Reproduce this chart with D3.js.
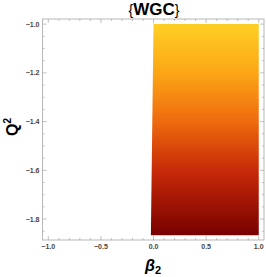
<!DOCTYPE html>
<html>
<head>
<meta charset="utf-8">
<script src="https://cdn.jsdelivr.net/npm/d3@7"></script>
<style>
  body { margin: 0; background: #fff; }
  svg { display: block; font-family: "Liberation Sans", Arial, sans-serif; }
</style>
</head>
<body>
<div id="chart"></div>
<script>
// data
const xTicks = [-1.0, -0.5, 0.0, 0.5, 1.0];
const yTicks = [-1.8, -1.6, -1.4, -1.2, -1.0];
const xDomain = [-1.055, 1.05];
const yDomain = [-1.886, -0.979];

// allowed region (beta2, Q^2), left edge leans a bit
const regionBeta = [0.0, 1.0, 1.0, -0.025];
const regionQ2 = [-1.0, -1.0, -1.866, -1.866];

// colour along Q^2
const colorQ = [-1.0, -1.2, -1.4, -1.6, -1.866];
const colorHex = ['#ffcf24', '#fca616', '#ee6a0e', '#c82a08', '#780000'];

const width = 266, height = 277;
const m = { left: 42.5, right: 2, top: 19, bottom: 37 };

const svg = d3.select('#chart').append('svg')
  .attr('width', width)
  .attr('height', height);

const x = d3.scaleLinear().domain(xDomain).range([m.left, width - m.right]);
const y = d3.scaleLinear().domain(yDomain).range([height - m.bottom, m.top]);

const grad = svg.append('defs').append('linearGradient')
  .attr('id', 'fillGrad')
  .attr('gradientUnits', 'userSpaceOnUse')
  .attr('x1', 0).attr('x2', 0)
  .attr('y1', y(colorQ[0])).attr('y2', y(colorQ[colorQ.length - 1]));

const span = colorQ[colorQ.length - 1] - colorQ[0];
grad.selectAll('stop')
  .data(colorQ)
  .join('stop')
  .attr('offset', d => (d - colorQ[0]) / span)
  .attr('stop-color', (d, i) => colorHex[i]);

const region = regionBeta.map((b, i) => [b, regionQ2[i]]);
svg.append('path')
  .attr('d', d3.line().x(d => x(d[0])).y(d => y(d[1]))(region) + 'Z')
  .attr('fill', 'url(#fillGrad)');

// frame
const frame = svg.append('g').attr('stroke', '#a6a6a6').attr('fill', 'none');
frame.append('rect')
  .attr('x', x.range()[0]).attr('y', y.range()[1])
  .attr('width', x.range()[1] - x.range()[0])
  .attr('height', y.range()[0] - y.range()[1])
  .attr('stroke-width', 0.8);

const xMinor = d3.range(-10, 11).map(d => d / 10);
const yMinor = d3.range(-37, -19).map(d => d / 20);

function isMajor(v, list) { return list.some(t => Math.abs(t - v) < 1e-6); }

// ticks pointing into the frame on all four sides
xMinor.forEach(v => {
  const len = isMajor(v, xTicks) ? 4 : 2;
  frame.append('line').attr('x1', x(v)).attr('x2', x(v))
    .attr('y1', y.range()[0]).attr('y2', y.range()[0] - len).attr('stroke-width', 0.7);
  frame.append('line').attr('x1', x(v)).attr('x2', x(v))
    .attr('y1', y.range()[1]).attr('y2', y.range()[1] + len).attr('stroke-width', 0.7);
});
yMinor.forEach(v => {
  const len = isMajor(v, yTicks) ? 4 : 2;
  frame.append('line').attr('y1', y(v)).attr('y2', y(v))
    .attr('x1', x.range()[0]).attr('x2', x.range()[0] + len).attr('stroke-width', 0.7);
  frame.append('line').attr('y1', y(v)).attr('y2', y(v))
    .attr('x1', x.range()[1]).attr('x2', x.range()[1] - len).attr('stroke-width', 0.7);
});

const fmt = d => d3.format('.1f')(d).replace('-', '\u2212');

svg.append('g').selectAll('text')
  .data(xTicks)
  .join('text')
  .attr('x', x)
  .attr('y', y.range()[0] + 9)
  .attr('text-anchor', 'middle')
  .attr('font-size', 7)
  .attr('font-weight', 'bold')
  .attr('fill', '#444')
  .text(fmt);

svg.append('g').selectAll('text')
  .data(yTicks)
  .join('text')
  .attr('x', x.range()[0] - 3)
  .attr('y', d => y(d) + 2.5)
  .attr('text-anchor', 'end')
  .attr('font-size', 7)
  .attr('font-weight', 'bold')
  .attr('fill', '#444')
  .text(fmt);

// title and axis labels
const title = svg.append('text')
  .attr('x', 154).attr('y', 15)
  .attr('text-anchor', 'middle')
  .attr('font-weight', 'bold')
  .attr('font-size', 17)
  .attr('fill', '#000');
title.append('tspan').attr('font-weight', 'normal').attr('font-size', 14).text('{');
title.append('tspan').text('WGC');
title.append('tspan').attr('font-weight', 'normal').attr('font-size', 14).text('}');

const yl = svg.append('text')
  .attr('transform', 'translate(18,127) rotate(-90)')
  .attr('text-anchor', 'middle')
  .attr('font-weight', 'bold')
  .attr('font-size', 16);
yl.append('tspan').text('Q');
yl.append('tspan').attr('font-size', 10).attr('dy', -7).text('2');

const xl = svg.append('text')
  .attr('x', 153).attr('y', 271)
  .attr('text-anchor', 'middle')
  .attr('font-weight', 'bold')
  .attr('font-size', 16);
xl.append('tspan').attr('font-style', 'italic').text('\u03b2');
xl.append('tspan').attr('font-size', 11).attr('dy', 3).text('2');
</script>
</body>
</html>
